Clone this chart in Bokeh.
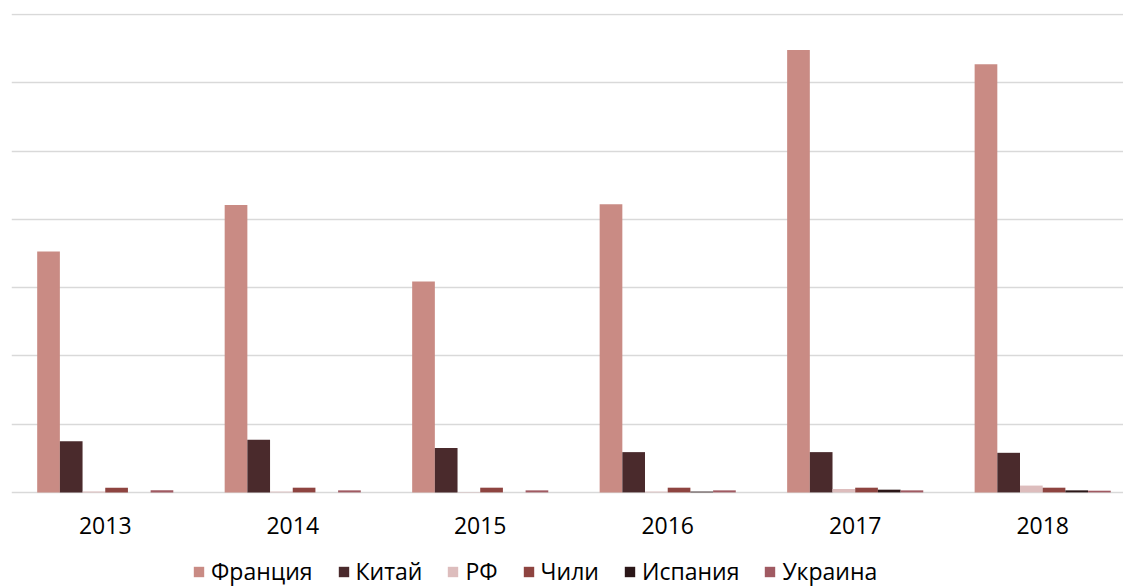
from bokeh.plotting import figure
from bokeh.models import ColumnDataSource, FixedTicker, Legend, LegendItem, Range1d
from bokeh.core.properties import value
from bokeh.transform import dodge
from bokeh.embed import file_html
from bokeh.resources import INLINE

years = ["2013", "2014", "2015", "2016", "2017", "2018"]
series = ["Франция", "Китай", "РФ", "Чили", "Испания", "Украина"]
colors = ["#C98B84", "#4A2A2C", "#DDBDBD", "#8E4440", "#2B1718", "#A05A62"]

france = [3.53, 4.21, 3.09, 4.22, 6.48, 6.27]
china = [0.75, 0.77, 0.65, 0.59, 0.59, 0.58]
rf = [0.015, 0.012, 0.006, 0.012, 0.05, 0.10]
chile = [0.069, 0.069, 0.069, 0.069, 0.069, 0.069]
spain = [0.0, 0.0, 0.0, 0.012, 0.04, 0.03]
ukraine = [0.03, 0.03, 0.03, 0.03, 0.03, 0.025]

values = [france, china, rf, chile, spain, ukraine]
keys = ["s0", "s1", "s2", "s3", "s4", "s5"]

data = {"x": list(range(len(years))), "year": years, "y0": [0] * len(years)}
for k, v in zip(keys, values):
    data[k] = v
src = ColumnDataSource(data)

FONT = "Open Sans"

p = figure(width=1123, height=587, output_backend="svg", toolbar_location=None,
           x_range=Range1d(-0.5, 5.431), y_range=Range1d(-1.393, 7.015),
           x_axis_location=None,
           min_border_left=11, min_border_right=0, min_border_top=13,
           min_border_bottom=0)
p.outline_line_color = None
p.background_fill_color = "white"

for g in p.grid:
    if g.dimension == 0:
        g.grid_line_color = None
    else:
        g.ticker = FixedTicker(ticks=[0, 1, 2, 3, 4, 5, 6, 7])
        g.grid_line_color = "#D9D9D9"
        g.grid_line_width = 1.6
p.yaxis.visible = False

bw = 0.121
renderers = []
for i, (k, c) in enumerate(zip(keys, colors)):
    r = p.vbar(x=dodge("x", (i - 2.5) * bw, range=p.x_range), top=k, width=bw,
               source=src, fill_color=c, line_color=None)
    renderers.append(r)

# category (year) labels under the baseline
p.text(x="x", y="y0", text="year", source=src, y_offset=33,
       text_align="center", text_baseline="middle",
       text_font=value(FONT), text_font_size="23px", text_color="#000000")

items = [LegendItem(label=s, renderers=[r]) for s, r in zip(series, renderers)]
legend = Legend(items=items, orientation="horizontal", location=(181, 0),
                glyph_width=13, glyph_height=13, label_standoff=6, spacing=24,
                padding=0, margin=0, border_line_color=None,
                background_fill_alpha=0, label_text_font=FONT,
                label_text_font_size="23px", label_height=24,
                label_text_color="#000000")
p.add_layout(legend, "center")

open("out.html", "w").write(file_html(p, INLINE))
